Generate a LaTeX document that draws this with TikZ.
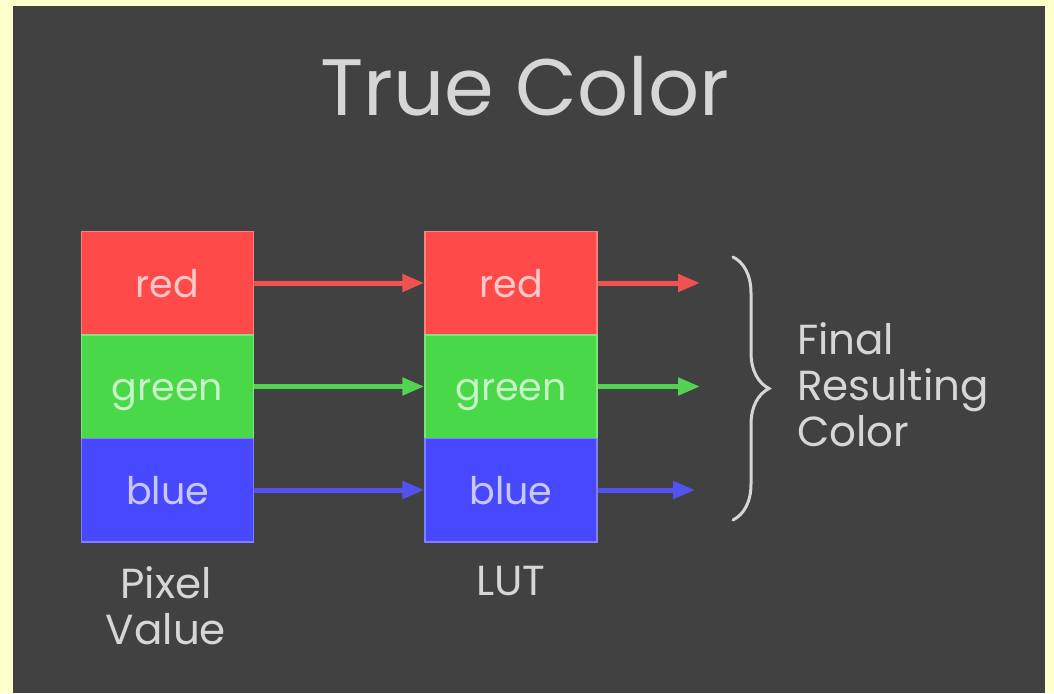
\documentclass[tikz,border=0pt]{standalone}
\usepackage{fontspec}
\setmainfont{Poppins}
\usetikzlibrary{arrows.meta,decorations.pathreplacing}

\definecolor{pagebg}{HTML}{FFFFCC}
\definecolor{slide}{HTML}{414141}
\definecolor{softgray}{HTML}{D6D6D6}
\definecolor{boxred}{HTML}{FF4A4A}
\definecolor{boxgreen}{HTML}{48D848}
\definecolor{boxblue}{HTML}{4848FF}
\definecolor{linered}{HTML}{F05252}
\definecolor{linegreen}{HTML}{52D452}
\definecolor{lineblue}{HTML}{5252F0}

\tikzstyle{channel}=[draw, line width=1.5pt, inner sep=0pt,
  minimum width=172pt, minimum height=103.5pt, text height=28pt, text depth=0pt,
  font=\fontsize{38}{40}\selectfont]
\tikzstyle{caption}=[text=softgray, inner sep=0pt,
  font=\fontsize{42}{46}\selectfont]
\tikzstyle{flow}=[-{Triangle[length=22pt,width=17pt]}, line width=5pt]

\begin{document}
\begin{tikzpicture}[x=1pt,y=-1pt]
\useasboundingbox (0,0) rectangle (1054,693);
\fill[pagebg] (0,0) rectangle (1054,693);
\fill[slide] (13,6) rectangle (1045,693);
%
\draw(525,115) node[anchor=base, text=softgray, inner sep=0pt,
  font=\fontsize{80}{84}\selectfont](title){True Color};
%
\draw(167.5,283) node[channel, fill=boxred, draw=boxred!70!white,
  text=boxred!30!white](pxred){red};
\draw(167.5,386.5) node[channel, fill=boxgreen, draw=boxgreen!70!white,
  text=boxgreen!30!white](pxgreen){green};
\draw(167.5,490) node[channel, fill=boxblue, draw=boxblue!70!white,
  text=boxblue!30!white](pxblue){blue};
\draw(166,566) node[caption, anchor=north, align=center](pxlabel){Pixel\\Value};
%
\draw(511,283) node[channel, fill=boxred, draw=boxred!70!white,
  text=boxred!30!white](lutred){red};
\draw(511,386.5) node[channel, fill=boxgreen, draw=boxgreen!70!white,
  text=boxgreen!30!white](lutgreen){green};
\draw(511,490) node[channel, fill=boxblue, draw=boxblue!70!white,
  text=boxblue!30!white](lutblue){blue};
\draw(511,566) node[caption, anchor=north](lutlabel){LUT};
%
\draw[flow, linered] (pxred) -- (lutred);
\draw[flow, linegreen] (pxgreen) -- (lutgreen);
\draw[flow, lineblue] (pxblue) -- (lutblue);
%
\coordinate (outred) at (700,283);
\coordinate (outgreen) at (700,386.5);
\coordinate (outblue) at (695,490);
\draw[flow, linered] (lutred) -- (outred);
\draw[flow, linegreen] (lutgreen) -- (outgreen);
\draw[flow, lineblue] (lutblue) -- (outblue);
%
\coordinate (bracetop) at (733,257);
\coordinate (bracebot) at (733,520);
\draw[softgray, line width=3pt, line cap=round,
  decorate, decoration={brace, amplitude=36pt}] (bracetop) -- (bracebot);
\draw(797,322) node[caption, anchor=north west, align=left](final)
  {Final\\Resulting\\Color};
\end{tikzpicture}
\end{document}
